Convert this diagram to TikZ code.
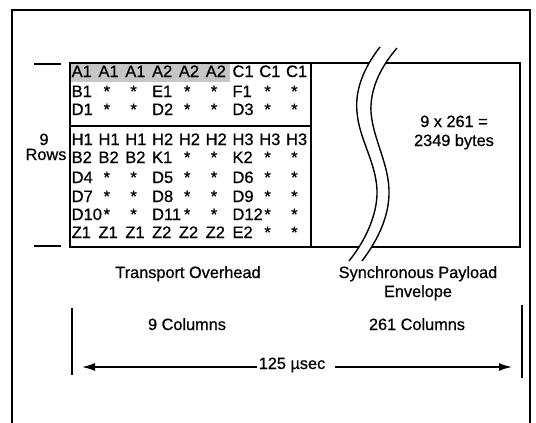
\documentclass[tikz,border=0pt]{standalone}
\usepackage{fontspec}
\setmainfont{Liberation Sans}[FakeBold=0.7]
\usetikzlibrary{arrows.meta}
\begin{document}
\begin{tikzpicture}[x=1pt,y=-1pt,
  frame/.style={line width=1.4pt},
  box/.style={line width=1.3pt},
  cell/.style={inner sep=0pt,font=\fontsize{16.5}{17}\selectfont},
  lbl/.style={inner sep=0pt,font=\fontsize{16.3}{18}\selectfont,anchor=base},
  brk/.style={line width=1.4pt},
  arr/.style={line width=1.6pt,-{Latex[length=13pt,width=8pt]}},
  bar/.style={line width=1.3pt}]
\useasboundingbox (0,0) rectangle (536,423);
% outer frame
\draw[frame] (12,423) -- (12,10) -- (530,10) -- (530,423);
% shaded A1/A2 cells
\fill[gray!45] (70,63) rectangle (230,82);
% overhead table
\draw[box] (70,63) rectangle (311,247);
\draw[box] (70,126) -- (311,126);
% payload box
\draw[box] (311,63) -- (520,63) -- (520,247) -- (311,247);
% break between the two curves
\fill[white] (380,47) .. controls (362,70) and (355,92) .. (357,112)
  .. controls (359,140) and (378,165) .. (377,195)
  .. controls (376,220) and (362,245) .. (349,261)
  -- (362,261) .. controls (374,245) and (388,222) .. (389,195)
  .. controls (390,165) and (373,140) .. (371,112)
  .. controls (370,92) and (378,70) .. (397,48) -- cycle;
\draw[brk] (380,47) .. controls (362,70) and (355,92) .. (357,112)
  .. controls (359,140) and (378,165) .. (377,195)
  .. controls (376,220) and (362,245) .. (349,261);
\draw[brk] (397,48) .. controls (378,70) and (370,92) .. (371,112)
  .. controls (373,140) and (390,165) .. (389,195)
  .. controls (388,222) and (374,245) .. (362,261);
% table cells
\def\starstr{*}
\newcommand\tablerow[3]{%
  \foreach \t [count=\c] in {#3} {%
    \ifx\t\starstr
      \node[cell,anchor=base] (cell-#1-\c) at ({80+26.8*(\c-1)},#2) {*};
    \else
      \node[cell,anchor=base west] (cell-#1-\c) at ({71.5+26.8*(\c-1)},#2) {\t};
    \fi
  }}
\tablerow{1}{77}{A1,A1,A1,A2,A2,A2,C1,C1,C1}
\tablerow{2}{97}{B1,*,*,E1,*,*,F1,*,*}
\tablerow{3}{115}{D1,*,*,D2,*,*,D3,*,*}
\tablerow{4}{145}{H1,H1,H1,H2,H2,H2,H3,H3,H3}
\tablerow{5}{163}{B2,B2,B2,K1,*,*,K2,*,*}
\tablerow{6}{183}{D4,*,*,D5,*,*,D6,*,*}
\tablerow{7}{202}{D7,*,*,D8,*,*,D9,*,*}
\tablerow{8}{220}{D10,*,*,D11,*,*,D12,*,*}
\tablerow{9}{238}{Z1,Z1,Z1,Z2,Z2,Z2,E2,*,*}
% payload text
\node[lbl] (pay1) at (454,127) {9 x 261 =};
\node[lbl] (pay2) at (454,146) {2349 bytes};
% rows label
\draw[bar] (34,64) -- (61,64);
\draw[bar] (34,246) -- (61,246);
\node[lbl] (nine) at (44,145) {9};
\node[lbl] (rows) at (46,160) {Rows};
% bottom labels
\node[lbl] (to) at (188,278) {Transport Overhead};
\node[lbl] (spe1) at (418,278) {Synchronous Payload};
\node[lbl] (spe2) at (418,297) {Envelope};
\node[lbl] (c9) at (187,330) {9 Columns};
\node[lbl] (c261) at (417,330) {261 Columns};
% time span
\draw[bar] (72,308) -- (72,375);
\draw[bar] (522,305) -- (522,378);
\coordinate (lt) at (82,367);
\coordinate (rt) at (512,367);
\node[lbl] (time) at (292,369) {125 µsec};
\draw[arr] ([xshift=-2pt]time.west |- lt) -- (lt);
\draw[arr] ([xshift=10pt]time.east |- rt) -- (rt);
\end{tikzpicture}
\end{document}
